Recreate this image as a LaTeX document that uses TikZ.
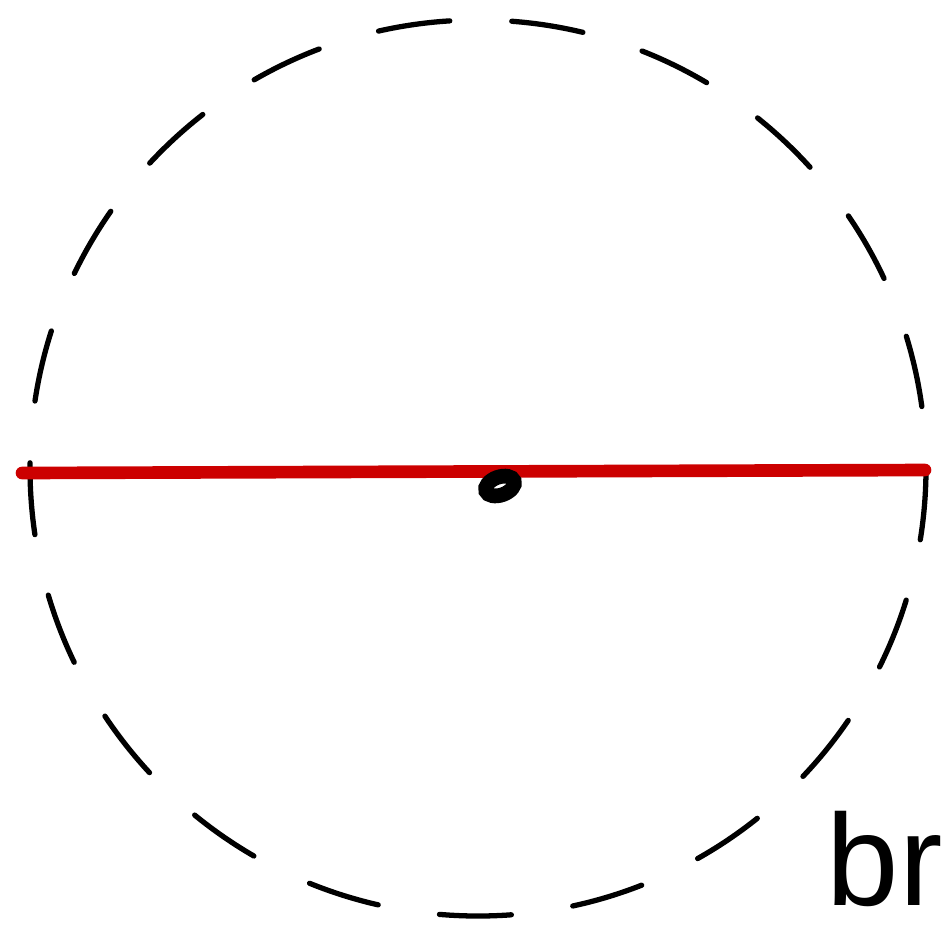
\documentclass[tikz,border=0pt]{standalone}
\usepackage{fontspec}
\setmainfont{Liberation Sans}
\usetikzlibrary{positioning, shapes.geometric}
\definecolor{rouge}{HTML}{CC0000}
\tikzset{
  contour/.style={draw=black, line width=1.5pt, line cap=round,
    dash pattern=on 0.72cm off 0.62cm},
  diametre/.style={draw=rouge, line width=3.6pt, line cap=round},
  centre/.style={ellipse, draw=black, fill=white, line width=4.2pt,
    minimum width=0.30cm, minimum height=0.18cm, inner sep=0pt, rotate=20},
  etiquette/.style={font=\fontsize{37}{40}\selectfont, inner sep=0pt, anchor=base west},
}
\begin{document}
\begin{tikzpicture}[x=0.01cm, y=-0.01cm]
    \useasboundingbox (0,0) rectangle (943,933);
    \coordinate (o) at (478,468);
    \draw[contour] (o) circle[radius=448];
    \coordinate (gauche) at (22,473);
    \coordinate (droite) at (925,470);
    \draw[diametre] (gauche) -- (droite);
    \node[centre] (milieu) at (500,486) {};
    \node[etiquette] (br) at (826,905) {br};
\end{tikzpicture}
\end{document}
